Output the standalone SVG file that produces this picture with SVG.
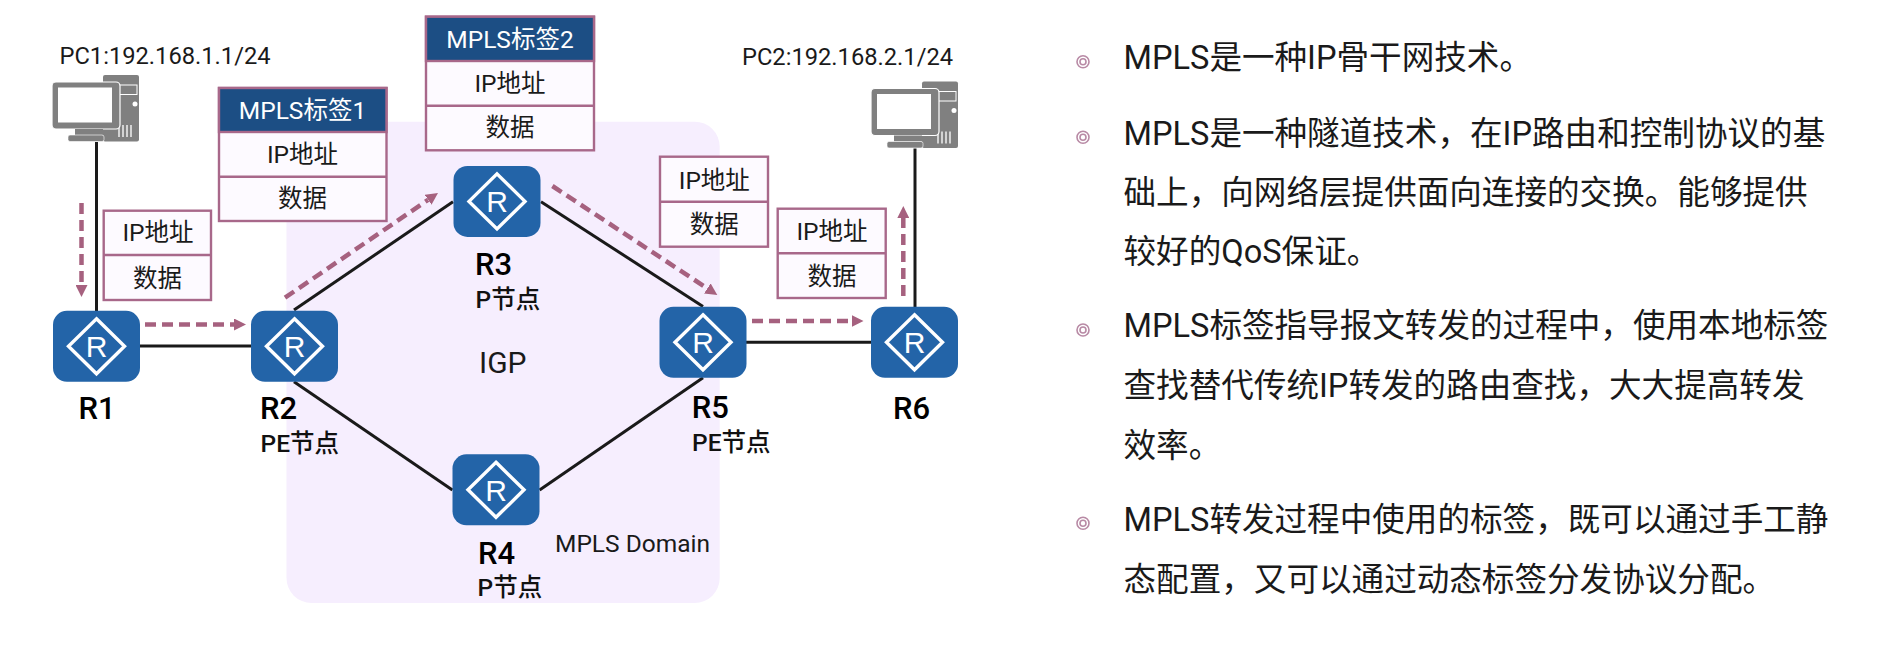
<svg xmlns="http://www.w3.org/2000/svg" width="1889" height="662" viewBox="0 0 1889 662">
<style>
text{font-family:Roboto,"Noto Sans CJK SC",sans-serif;fill:#1a1a1a}
.lnk{stroke:#1a1a1a;stroke-width:3;fill:none}
.flow{stroke:#a6617f;stroke-width:4.5;fill:none;stroke-dasharray:11 6;marker-end:url(#head)}
.box{fill:#fdfaff;stroke:#a8688a;stroke-width:2.4}
.hdr{fill:#1c4e84;stroke:#a8688a;stroke-width:2.4}
.t{font-size:24.5px;text-anchor:middle}
.th{font-size:24.5px;text-anchor:middle;fill:#fff}
.rn{font-size:31px;font-weight:500;fill:#000}
.sub{font-size:24.5px;font-weight:500;fill:#111}
.para{font-size:32.6px}
.pc{font-size:23.7px}
.bul{fill:none;stroke:#b88aa5;stroke-width:1.6}
.g{fill:#808080}
</style>
<defs>
<marker id="head" viewBox="0 -6 12 12" refX="0" refY="0" markerWidth="12" markerHeight="12" markerUnits="userSpaceOnUse" orient="auto"><path d="M0,-6 L12,0 L0,6 Z" fill="#a6617f"/></marker>
<g id="router">
<rect x="-43.5" y="-35.5" width="87" height="71" rx="14" fill="#2364a8"/>
<path d="M0,-27.5 L28,0 L0,27.5 L-28,0 Z" fill="none" stroke="#fff" stroke-width="3.4"/>
<text x="0" y="11" style="font-family:'Liberation Sans',sans-serif;font-size:30px;text-anchor:middle;fill:#fff">R</text>
</g>
<g id="computer">
<rect x="103" y="75" width="36" height="66.5" rx="2" class="g"/>
<rect x="112" y="85" width="25" height="9.5" fill="#808080" stroke="#fff" stroke-width="1"/>
<circle cx="135" cy="104" r="2.5" fill="#fff"/>
<path d="M119,126V137M123,125V137M127,125V137M131,125V137" stroke="#fff" stroke-width="1.3"/>
<rect x="52" y="82" width="68" height="47" rx="4" fill="#808080" stroke="#fff" stroke-width="1.2"/>
<rect x="58" y="87.5" width="54" height="35" fill="#fff"/>
<rect x="75" y="129" width="28" height="6" class="g"/>
<rect x="68" y="135" width="36" height="6.5" rx="2" fill="#808080" stroke="#fff" stroke-width=".6"/>
</g>
</defs>
<rect width="1889" height="662" fill="#fff"/>
<rect id="mpls-domain" x="286.5" y="121.7" width="433.2" height="481.3" rx="25" fill="#f6eefe"/>
<g id="connectors">
<path class="lnk" d="M96.5,142V311"/>
<path class="lnk" d="M140,346H251"/>
<path class="lnk" d="M294,310L453,201.7"/>
<path class="lnk" d="M541,201.7L703,306.5"/>
<path class="lnk" d="M294,381.7L452.4,490"/>
<path class="lnk" d="M539.6,490L703,377.7"/>
<path class="lnk" d="M746,342.3H871"/>
<path class="lnk" d="M915,148.3V307"/>
<path class="flow" d="M81.5,203V285"/>
<path class="flow" d="M145,324.5H234"/>
<path class="flow" d="M285,297.7L428.1,199.8"/>
<path class="flow" d="M552.4,186L707.3,288.4"/>
<path class="flow" d="M752,321H851.5"/>
<path class="flow" d="M903.3,296V218"/>
</g>
<g id="PC1"><use href="#computer"/><text class="pc" x="59.5" y="64">PC1:192.168.1.1/24</text></g>
<g id="PC2"><use href="#computer" x="819" y="6.5"/><text class="pc" x="742" y="65">PC2:192.168.2.1/24</text></g>
<g id="R1"><use href="#router" x="96.5" y="346.3"/><text class="rn" x="78.5" y="419">R1</text></g>
<g id="R2"><use href="#router" x="294.5" y="346.3"/><text class="rn" x="260" y="419">R2</text><text class="sub" x="260.5" y="451.7">PE节点</text></g>
<g id="R3"><use href="#router" x="497" y="201.4"/><text class="rn" x="475" y="275">R3</text><text class="sub" x="475.5" y="308">P节点</text></g>
<g id="R4"><use href="#router" x="496" y="489.8"/><text class="rn" x="478" y="564">R4</text><text class="sub" x="477.5" y="596">P节点</text></g>
<g id="R5"><use href="#router" x="703" y="342.3"/><text class="rn" x="691.7" y="418">R5</text><text class="sub" x="692" y="450.7">PE节点</text></g>
<g id="R6"><use href="#router" x="914.5" y="342.3"/><text class="rn" x="893" y="419">R6</text></g>
<g id="packet-a"><rect class="box" x="103.7" y="210.7" width="107.3" height="89.3"/><path class="box" d="M103.7,255H211"/><text class="t" x="158" y="241">IP地址</text><text class="t" x="157.5" y="287">数据</text></g>
<g id="packet-b"><rect class="box" x="219" y="88" width="167.5" height="133"/><rect class="hdr" x="219" y="88" width="167.5" height="44"/><path class="box" d="M219,176.7H386.5"/><text class="th" x="302.5" y="119">MPLS标签1</text><text class="t" x="302.5" y="163">IP地址</text><text class="t" x="302.5" y="207">数据</text></g>
<g id="packet-c"><rect class="box" x="426" y="16.7" width="168" height="133.6"/><rect class="hdr" x="426" y="16.7" width="168" height="44.3"/><path class="box" d="M426,105.7H594"/><text class="th" x="510" y="48">MPLS标签2</text><text class="t" x="510" y="92">IP地址</text><text class="t" x="510" y="136">数据</text></g>
<g id="packet-d"><rect class="box" x="660" y="156.7" width="108" height="90"/><path class="box" d="M660,201.7H768"/><text class="t" x="714.3" y="189.3">IP地址</text><text class="t" x="714.3" y="233">数据</text></g>
<g id="packet-e"><rect class="box" x="777.7" y="208.7" width="108" height="89.3"/><path class="box" d="M777.7,253.3H885.7"/><text class="t" x="832" y="240">IP地址</text><text class="t" x="832" y="285">数据</text></g>
<text x="479" y="373" style="font-size:30px">IGP</text>
<text x="555" y="552" style="font-size:24.5px">MPLS Domain</text>
<g id="bullets">
<g class="bul"><circle cx="1083" cy="61.7" r="6"/><circle cx="1083" cy="61.7" r="3"/></g>
<g class="bul"><circle cx="1083" cy="137.3" r="6"/><circle cx="1083" cy="137.3" r="3"/></g>
<g class="bul"><circle cx="1083" cy="330" r="6"/><circle cx="1083" cy="330" r="3"/></g>
<g class="bul"><circle cx="1083" cy="523.3" r="6"/><circle cx="1083" cy="523.3" r="3"/></g>
</g>
<g id="paragraphs" class="para">
<text x="1123.5" y="69.3">MPLS是一种IP骨干网技术。</text>
<text x="1123.5" y="145">MPLS是一种隧道技术，在IP路由和控制协议的基</text>
<text x="1123.5" y="204">础上，向网络层提供面向连接的交换。能够提供</text>
<text x="1123.5" y="263.3">较好的QoS保证。</text>
<text x="1123.5" y="337.3">MPLS标签指导报文转发的过程中，使用本地标签</text>
<text x="1123.5" y="396.7">查找替代传统IP转发的路由查找，大大提高转发</text>
<text x="1123.5" y="456.7">效率。</text>
<text x="1123.5" y="530.7">MPLS转发过程中使用的标签，既可以通过手工静</text>
<text x="1123.5" y="590.7">态配置，又可以通过动态标签分发协议分配。</text>
</g>
</svg>
